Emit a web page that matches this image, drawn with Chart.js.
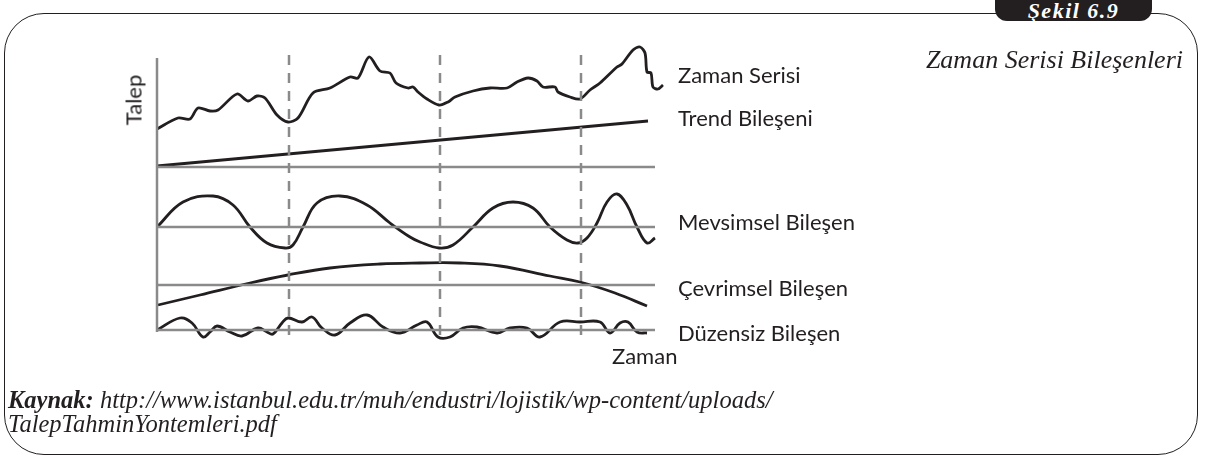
<!DOCTYPE html>
<html>
<head>
<meta charset="utf-8">
<script src="https://cdn.jsdelivr.net/npm/chart.js@4.4.0/dist/chart.umd.min.js"></script>
<style>
  body { margin: 0; background: #fff; }
  #wrap { position: relative; width: 1208px; height: 456px; overflow: hidden; }
  #frame { position: absolute; left: 4px; top: 13px; width: 1194px; height: 442px;
           border: 1.5px solid #231f20; border-radius: 40px; box-sizing: border-box; }
  #badge { position: absolute; left: 995px; top: -12px; width: 157px; height: 21px; padding-top: 12px;
           background: #231f20; border-radius: 12px; color: #fff;
           font: italic bold 22px "Liberation Serif", serif; letter-spacing: 1.5px;
           text-align: center; line-height: 21px; }
  #chart { position: absolute; left: 0; top: 0; }
  .lbl { position: absolute; font: 22px Lato, "Open Sans", sans-serif; color: #231f20; white-space: nowrap; }
  .it { position: absolute; font: italic 24.5px "Liberation Serif", serif; color: #231f20; white-space: nowrap; }
</style>
</head>
<body>
<div id="wrap">
  <div id="frame"></div>
  <div id="badge">Şekil 6.9</div>
  <canvas id="chart" width="1208" height="456"></canvas>
  <div class="it" style="right:25px; top:45px; font-size:26px;">Zaman Serisi Bileşenleri</div>
  <div class="lbl" style="left:133px; top:100px; transform: translate(-50%,-50%) rotate(-90deg);">Talep</div>
  <div class="lbl" style="left:678px; top:61px;">Zaman Serisi</div>
  <div class="lbl" style="left:678px; top:104px;">Trend Bileşeni</div>
  <div class="lbl" style="left:678px; top:208px;">Mevsimsel Bileşen</div>
  <div class="lbl" style="left:678px; top:274px;">Çevrimsel Bileşen</div>
  <div class="lbl" style="left:678px; top:319px;">Düzensiz Bileşen</div>
  <div class="lbl" style="left:612px; top:342px;">Zaman</div>
  <div class="it" style="left:8px; top:386px;"><b>Kaynak:</b> http://www.istanbul.edu.tr/muh/endustri/lojistik/wp-content/uploads/</div>
  <div class="it" style="left:8px; top:410px;">TalepTahminYontemleri.pdf</div>
</div>
<script>
// time axis (t) and value axis (v)
const seriesT = [0, 21, 33, 41, 53, 61, 80, 91, 100, 108, 120, 131, 141, 156, 173, 193, 201, 212, 223, 233, 239, 251, 256, 261, 270, 282, 291, 298, 316, 333, 350, 360, 371, 380, 386, 398, 401, 413, 423, 433, 443, 460, 465, 476, 483, 488, 490, 494, 496, 501, 506];
const seriesV = [211, 222, 221, 232, 229, 230, 246, 239, 244, 242, 225, 218, 222, 247, 252, 263, 262, 283, 269, 267, 257, 252, 253, 248, 241, 235, 238, 243, 249, 252, 252, 258, 262, 259, 253, 253, 248, 243, 241, 250, 257, 273, 276, 290, 293, 287, 268, 267, 253, 251, 255];

const trendT = [0, 491];
const trendV = [174, 219];

const seasonalT = [0, 26, 56, 76, 93, 110, 128, 136, 146, 160, 183, 210, 233, 253, 263, 282, 296, 316, 336, 356, 376, 393, 410, 421, 430, 440, 450, 460, 470, 480, 490, 498];
const seasonalV = [113, 138, 144, 135, 113, 97, 92, 95, 113, 137, 144, 135, 117, 103, 98, 92, 95, 113, 132, 138, 132, 113, 100, 97, 102, 117, 138, 146, 135, 113, 97, 102];

const cyclicalT = [1, 43, 93, 131, 173, 223, 263, 303, 343, 393, 423, 458, 490];
const cyclicalV = [35, 45, 57, 65, 72, 76, 77, 77, 74, 64, 58, 47, 34];

const irregularT = [0, 23, 35, 46, 53, 60, 73, 85, 101, 110, 116, 125, 131, 145, 155, 165, 178, 193, 210, 226, 243, 260, 270, 281, 293, 306, 320, 340, 353, 370, 383, 403, 423, 443, 453, 463, 471, 480, 490];
const irregularV = [10, 22, 17, 3, 8, 14, 8, 4, 12, 8, 6, 17, 22, 18, 23, 12, 5, 17, 25, 13, 7, 15, 18, 3, 3, 12, 13, 7, 12, 12, 3, 18, 18, 18, 7, 17, 18, 8, 7];

// baselines of each component and the dashed time markers
const baseLevels = [173, 113, 55, 10];
const baseEndT = 498;
const markerT = [132, 283, 424];
const markerTop = 290;
const markerBottom = 5;
const axisTop = 282;
const axisBottom = 8;

const toPts = (ts, vs) => ts.map((t, i) => ({ x: t, y: vs[i] }));

const gray = '#8a8a8a';
const ink = '#231f20';

const datasets = [];
baseLevels.forEach(v => {
    datasets.push({ data: [{ x: 0, y: v }, { x: baseEndT, y: v }], borderColor: gray, borderWidth: 2.5, tension: 0 });
});
datasets.push({ data: [{ x: 0, y: axisBottom }, { x: 0, y: axisTop }], borderColor: gray, borderWidth: 2.5, tension: 0 });
markerT.forEach(t => {
    datasets.push({ data: [{ x: t, y: markerBottom }, { x: t, y: markerTop }], borderColor: gray, borderWidth: 2.5, borderDash: [10, 8], tension: 0 });
});
datasets.push({ data: toPts(seriesT, seriesV), borderColor: ink, borderWidth: 2.8, tension: 0.3 });
datasets.push({ data: toPts(trendT, trendV), borderColor: ink, borderWidth: 2.8, tension: 0 });
datasets.push({ data: toPts(seasonalT, seasonalV), borderColor: ink, borderWidth: 2.8, tension: 0.4 });
datasets.push({ data: toPts(cyclicalT, cyclicalV), borderColor: ink, borderWidth: 2.8, tension: 0.4 });
datasets.push({ data: toPts(irregularT, irregularV), borderColor: ink, borderWidth: 2.8, tension: 0.4 });

const ctx = document.getElementById('chart').getContext('2d');
new Chart(ctx, {
    type: 'line',
    data: { datasets: datasets },
    options: {
        responsive: false,
        animation: false,
        layout: { padding: { left: 157, right: 545, top: 40, bottom: 116 } },
        elements: { point: { radius: 0 } },
        datasets: { line: { clip: false, fill: false } },
        scales: {
            x: { type: 'linear', min: 0, max: 506, display: false },
            y: { type: 'linear', min: 0, max: 300, display: false }
        },
        plugins: { legend: { display: false }, tooltip: { enabled: false } }
    }
});
</script>
</body>
</html>
